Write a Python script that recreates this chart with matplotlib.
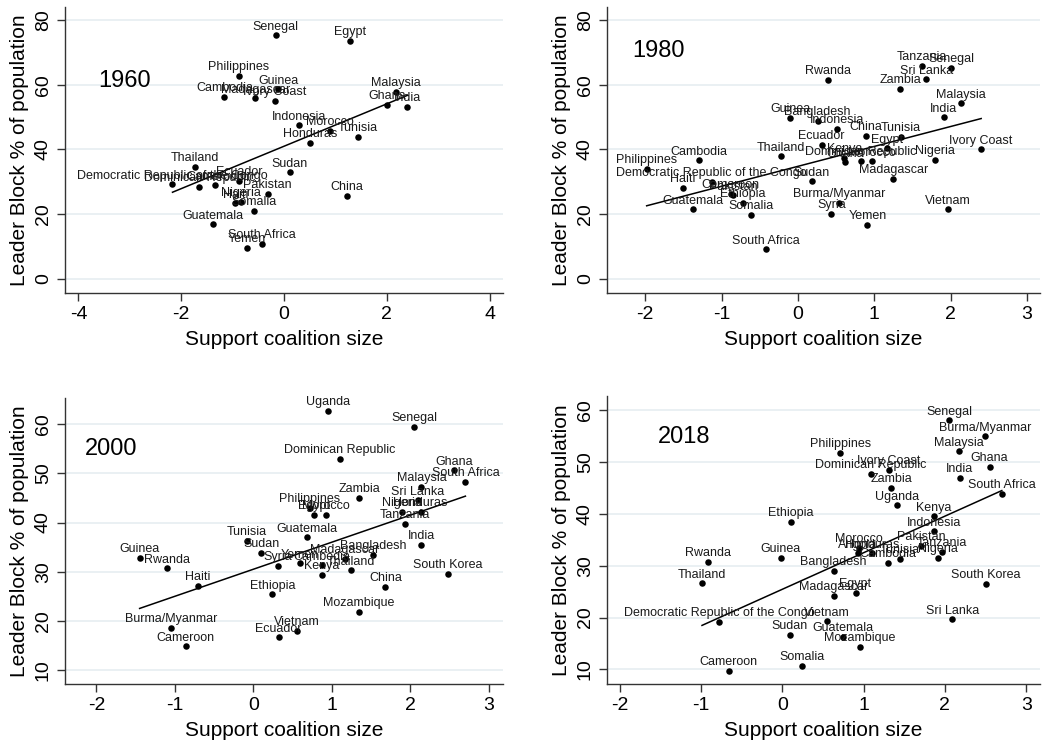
import numpy as np
import matplotlib.pyplot as plt

plt.rcParams['font.family'] = ['Liberation Sans', 'DejaVu Sans']

# ---- 1960 ----
names_1960 = ["Senegal", "Egypt", "Philippines", "Cambodia", "Madagascar", "Guinea",
              "Ivory Coast", "Malaysia", "Ghana", "India", "Indonesia", "Morocco",
              "Tunisia", "Honduras", "Thailand", "Sudan", "Ecuador",
              "Democratic Republic of the Congo", "Dominican Republic", "Cameroon",
              "Pakistan", "Nigeria", "Haiti", "Somalia", "China", "Guatemala",
              "South Africa", "Yemen"]
coal_1960 = [-0.16, 1.28, -0.88, -1.16, -0.56, -0.11, -0.175, 2.18, 2.00, 2.40, 0.29, 0.89,
             1.44, 0.51, -1.73, 0.11, -0.88, -2.17, -1.65, -1.34, -0.32, -0.84, -0.95,
             -0.58, 1.22, -1.38, -0.43, -0.72]
block_1960 = [75.2, 73.6, 62.7, 56.3, 55.8, 58.6, 55.1, 57.8, 53.8, 53.2, 47.4, 45.8,
              43.9, 42.1, 34.7, 33.0, 30.3, 29.3, 28.4, 28.9, 26.4, 23.8, 23.4,
              21.1, 25.7, 16.9, 10.8, 9.6]

# ---- 1980 ----
names_1980 = ["Tanzania", "Senegal", "Sri Lanka", "Rwanda", "Zambia", "Malaysia", "India",
              "Guinea", "Bangladesh", "Indonesia", "China", "Tunisia", "Ecuador", "Egypt",
              "Ivory Coast", "Thailand", "Kenya", "Ghana", "Dominican Republic", "Morocco",
              "Nigeria", "Madagascar", "Sudan", "Cambodia", "Philippines", "Haiti",
              "Democratic Republic of the Congo", "Cameroon", "Pakistan", "Ethiopia",
              "Somalia", "Guatemala", "South Africa", "Burma/Myanmar", "Syria", "Yemen",
              "Vietnam"]
coal_1980 = [1.63, 2.01, 1.68, 0.40, 1.34, 2.13, 1.91, -0.10, 0.26, 0.51, 0.89, 1.35, 0.31,
             1.17, 2.40, -0.22, 0.61, 0.62, 0.82, 0.97, 1.80, 1.25, 0.18, -1.29, -1.98,
             -1.51, -1.13, -0.88, -0.85, -0.72, -0.61, -1.37, -0.42, 0.54, 0.44, 0.91, 1.96]
block_1980 = [65.8, 65.2, 61.6, 61.5, 58.8, 54.3, 50.0, 49.7, 48.8, 46.4, 44.2, 43.9, 41.5,
              40.3, 40.0, 37.9, 37.5, 36.0, 36.5, 36.4, 36.8, 31.0, 30.2, 36.6, 34.1,
              28.1, 30.0, 26.4, 25.9, 23.6, 19.9, 21.6, 9.2, 23.6, 20.1, 16.7, 21.5]

# ---- 2000 ----
names_2000 = ["Uganda", "Senegal", "Dominican Republic", "Ghana", "South Africa", "Malaysia",
              "Zambia", "Sri Lanka", "Nigeria", "Honduras", "Tanzania", "Philippines",
              "Egypt", "Morocco", "Guatemala", "Tunisia", "Sudan", "India", "Bangladesh",
              "Syria", "Yemen", "Cambodia", "Kenya", "Madagascar", "Thailand", "Guinea",
              "Rwanda", "Haiti", "Ethiopia", "China", "South Korea", "Mozambique",
              "Burma/Myanmar", "Cameroon", "Vietnam", "Ecuador"]
coal_2000 = [0.95, 2.05, 1.10, 2.56, 2.70, 2.14, 1.35, 2.09, 1.89, 2.13, 1.93, 0.72,
             0.77, 0.92, 0.68, -0.08, 0.10, 2.14, 1.52, 0.31, 0.59, 0.87, 0.87, 1.16,
             1.24, -1.45, -1.10, -0.71, 0.24, 1.68, 2.48, 1.34, -1.05, -0.86, 0.55, 0.32]
block_2000 = [62.7, 59.5, 52.9, 50.6, 48.3, 47.3, 45.0, 44.5, 42.2, 42.2, 39.7, 43.0,
              41.6, 41.6, 37.0, 36.3, 33.8, 35.5, 33.4, 31.2, 31.7, 31.3, 29.4, 32.6,
              30.3, 32.8, 30.7, 27.1, 25.4, 26.9, 29.6, 21.9, 18.6, 14.9, 18.0, 16.7]

# ---- 2018 ----
names_2018 = ["Senegal", "Burma/Myanmar", "Malaysia", "Philippines", "Ghana", "Ivory Coast",
              "Dominican Republic", "India", "Zambia", "South Africa", "Uganda", "Kenya",
              "Indonesia", "Ethiopia", "Pakistan", "Tanzania", "Nigeria", "Morocco",
              "Angola", "Honduras", "Cambodia", "Tunisia", "Bangladesh", "Madagascar",
              "Egypt", "South Korea", "Guinea", "Rwanda", "Thailand",
              "Democratic Republic of the Congo", "Vietnam", "Sri Lanka", "Sudan",
              "Guatemala", "Mozambique", "Somalia", "Cameroon"]
coal_2018 = [2.05, 2.49, 2.17, 0.71, 2.55, 1.31, 1.09, 2.18, 1.34, 2.70, 1.41, 1.86,
             1.87, 0.10, 1.71, 1.96, 1.92, 0.94, 0.93, 1.10, 1.30, 1.45, 0.63, 0.63,
             0.90, 2.50, -0.02, -0.92, -0.99, -0.78, 0.55, 2.09, 0.09, 0.75, 0.95, 0.24,
             -0.66]
block_2018 = [58.0, 54.9, 52.0, 51.7, 49.1, 48.5, 47.7, 46.9, 45.0, 43.9, 41.6, 39.5,
              36.6, 38.5, 33.8, 32.7, 31.5, 33.4, 32.35, 32.35, 30.6, 31.3, 29.0, 24.25,
              24.8, 26.55, 31.5, 30.7, 26.6, 19.2, 19.3, 19.7, 16.7, 16.3, 14.4, 10.7,
              9.8]

panels = [
    ("1960", names_1960, coal_1960, block_1960, [0.062, 0.6057, 0.4176, 0.385],
     (-4.26, 4.26), [-4, -2, 0, 2, 4], (-4.3, 84), [0, 20, 40, 60, 80], (0.137, 0.74)),
    ("1980", names_1980, coal_1980, block_1980, [0.5786, 0.6057, 0.4128, 0.385],
     (-2.50, 3.17), [-2, -1, 0, 1, 2, 3], (-4.3, 84), [0, 20, 40, 60, 80], (0.12, 0.847)),
    ("2000", names_2000, coal_2000, block_2000, [0.062, 0.0794, 0.4176, 0.385],
     (-2.40, 3.18), [-2, -1, 0, 1, 2, 3], (7.2, 65.3), [10, 20, 30, 40, 50, 60], (0.105, 0.82)),
    ("2018", names_2018, coal_2018, block_2018, [0.5786, 0.0794, 0.4128, 0.387],
     (-2.16, 3.17), [-2, -1, 0, 1, 2, 3], (7.2, 62.6), [10, 20, 30, 40, 50, 60], (0.178, 0.858)),
]

fig = plt.figure(figsize=(10.49, 7.43), dpi=100)

for year, names, xs, ys, rect, xl, xt, yl, yt, ypos in panels:
    ax = fig.add_axes(rect)
    xs = np.array(xs)
    ys = np.array(ys)
    ax.scatter(xs, ys, s=22, color='black', zorder=3, linewidths=0)
    for n, x, y in zip(names, xs, ys):
        ax.annotate(n, (x, y), xytext=(0, 4), textcoords='offset points',
                    ha='center', va='baseline', fontsize=9, color='#1a1a1a')
    # linear fit
    b, a = np.polyfit(xs, ys, 1)
    fx = np.array([xs.min(), xs.max()])
    ax.plot(fx, a + b * fx, color='black', lw=1.1, zorder=2)

    ax.text(ypos[0], ypos[1], year, transform=ax.transAxes, fontsize=17,
            ha='center', va='center')

    ax.set_xlim(*xl)
    ax.set_ylim(*yl)
    ax.set_xticks(xt)
    ax.set_yticks(yt)
    ax.set_xticklabels([str(t) for t in xt], fontsize=14)
    ax.set_yticklabels([str(t) for t in yt], fontsize=14, rotation=90, va='center')
    ax.tick_params(axis='both', direction='out', length=6, width=1, color='#333333')
    ax.set_xlabel("Support coalition size", fontsize=15, labelpad=5)
    ax.set_ylabel("Leader Block % of population", fontsize=15, labelpad=4)
    ax.yaxis.grid(True, color='#e6eef1', lw=1.2)
    ax.set_axisbelow(True)
    for s in ['top', 'right']:
        ax.spines[s].set_visible(False)
    for s in ['left', 'bottom']:
        ax.spines[s].set_color('#333333')
        ax.spines[s].set_linewidth(1)

fig.savefig("out.png", dpi=100)
